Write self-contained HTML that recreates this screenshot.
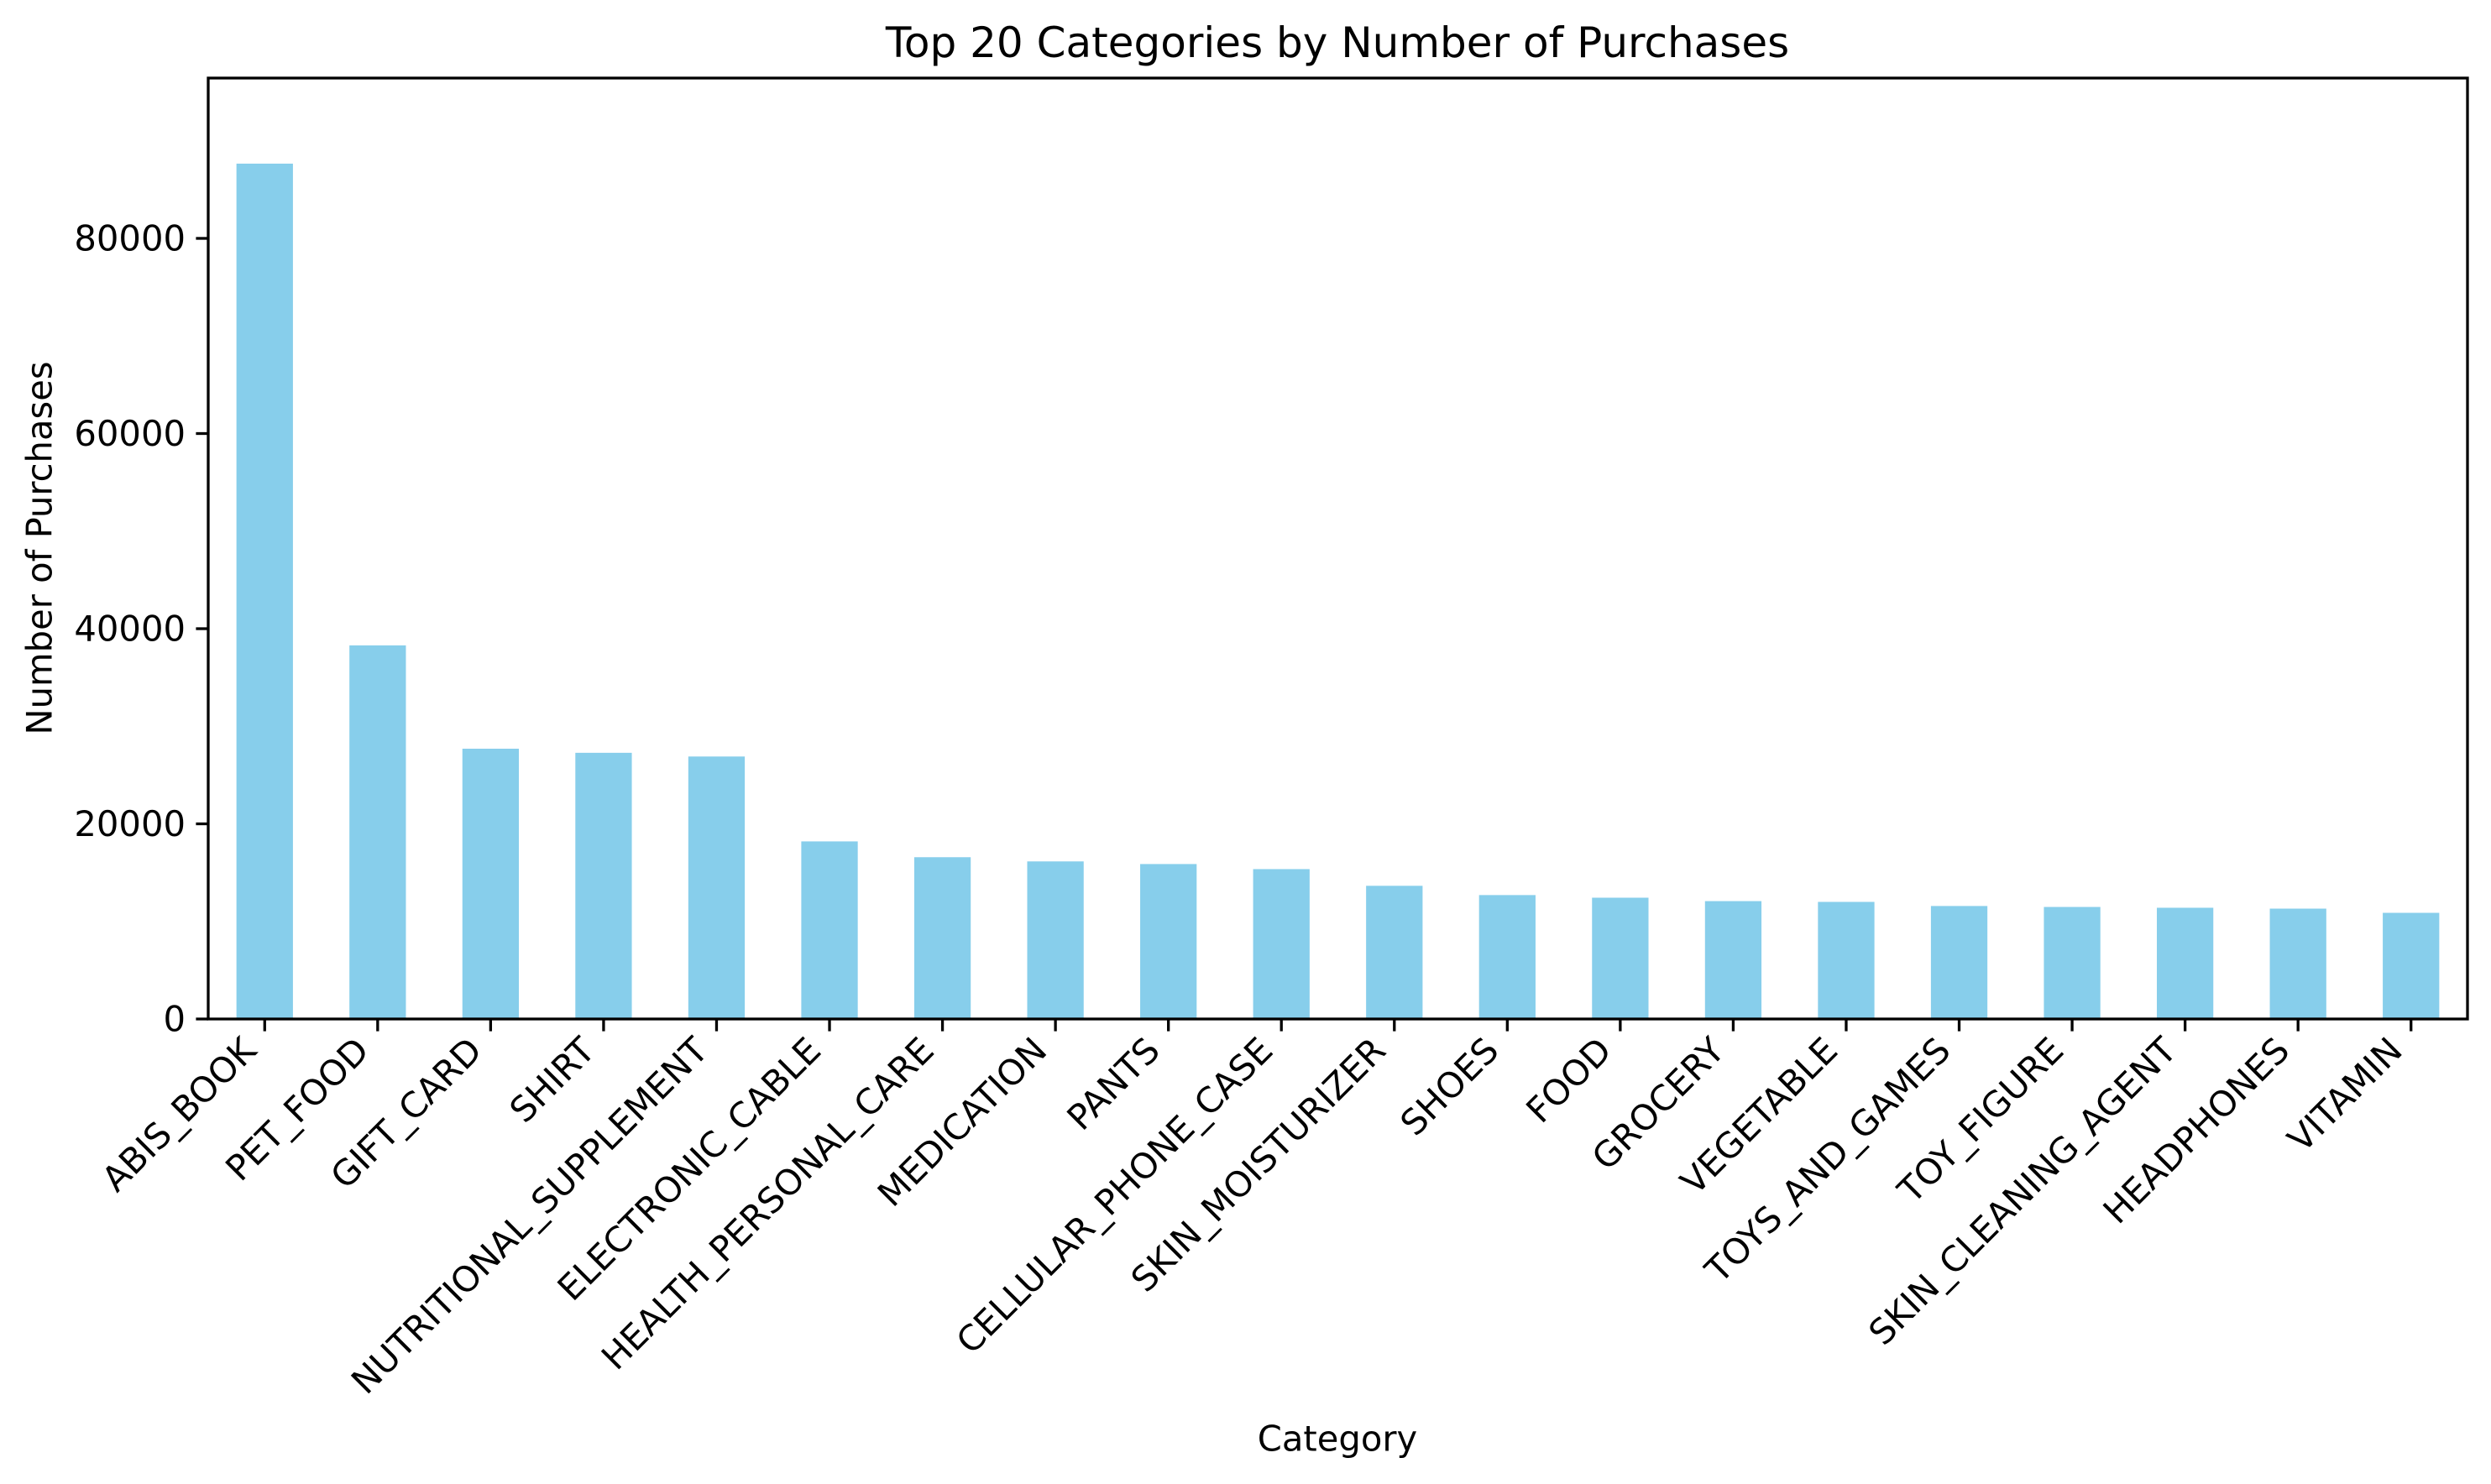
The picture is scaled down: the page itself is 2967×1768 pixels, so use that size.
<!DOCTYPE html>
<html><head><meta charset="utf-8"><style>
html,body{margin:0;padding:0;background:#fff;}
svg{display:block;font-family:"DejaVu Sans","Liberation Sans",sans-serif;}
</style></head><body>
<svg id="chart" width="2967" height="1768" viewBox="0 0 2967 1768" xmlns="http://www.w3.org/2000/svg">
<rect width="2967" height="1768" fill="#fff"/>
<text x="1593" y="51" font-size="50" text-anchor="middle" dominant-baseline="central">Top 20 Categories by Number of Purchases</text>
<text transform="translate(47,653) rotate(-90)" font-size="41.7" text-anchor="middle" dominant-baseline="central">Number of Purchases</text>
<text x="1593" y="1714" font-size="41.7" text-anchor="middle" dominant-baseline="central">Category</text>
<g id="bars"></g>
<g id="xticks"></g>
<g id="yticks"></g>
<rect x="248" y="93" width="2691" height="1121" fill="none" stroke="#000" stroke-width="3.3"/>
</svg>
<script>
const categories = ["ABIS_BOOK","PET_FOOD","GIFT_CARD","SHIRT","NUTRITIONAL_SUPPLEMENT","ELECTRONIC_CABLE","HEALTH_PERSONAL_CARE","MEDICATION","PANTS","CELLULAR_PHONE_CASE","SKIN_MOISTURIZER","SHOES","FOOD","GROCERY","VEGETABLE","TOYS_AND_GAMES","TOY_FIGURE","SKIN_CLEANING_AGENT","HEADPHONES","VITAMIN"];
const purchases = [87660,38290,27700,27280,26900,18200,16580,16150,15880,15360,13650,12700,12430,12080,12000,11580,11480,11400,11310,10880];
const yTickValues = [0,20000,40000,60000,80000];
const yTickLabels = ["0","20000","40000","60000","80000"];

const NS="http://www.w3.org/2000/svg";
const L=248,R=2939,T=93,B=1214;
const yMax=96430;
function yScale(v){return B-(v/yMax)*(B-T);}
const n=categories.length;
function xScale(i){return L+(R-L)*(i+0.5)/(n);}
const step=(R-L)/n, bw=step*0.5;
function mk(tag,attrs){const e=document.createElementNS(NS,tag);for(const k in attrs)e.setAttribute(k,attrs[k]);return e;}
const bars=document.getElementById('bars'),xt=document.getElementById('xticks'),yt=document.getElementById('yticks');
purchases.forEach((v,i)=>{
  const r=mk('rect',{x:xScale(i)-bw/2,y:yScale(v),width:bw,height:B-yScale(v),fill:'#87ceeb'});
  
  
  bars.appendChild(r);
});
categories.forEach((c,i)=>{
  const x=xScale(i);
  const l=mk('line',{x1:x,x2:x,y1:B,y2:B+14.6,stroke:'#000','stroke-width':3.3});
  
  
  xt.appendChild(l);
  const ex=x-8, ey=1254;
  const t=mk('text',{transform:`translate(${ex},${ey}) rotate(-45)`,'font-size':41.7,'text-anchor':'end'});
  
  
  t.textContent=c;
  xt.appendChild(t);
});
yTickValues.forEach((v,i)=>{
  const y=yScale(v);
  const l=mk('line',{x1:L-14.6,x2:L,y1:y,y2:y,stroke:'#000','stroke-width':3.3});
  
  
  yt.appendChild(l);
  const t=mk('text',{x:L-27,y:y,'font-size':41.7,'text-anchor':'end','dominant-baseline':'central'});
  
  
  t.textContent=yTickLabels[i];
  yt.appendChild(t);
});
</script>
</body></html>
